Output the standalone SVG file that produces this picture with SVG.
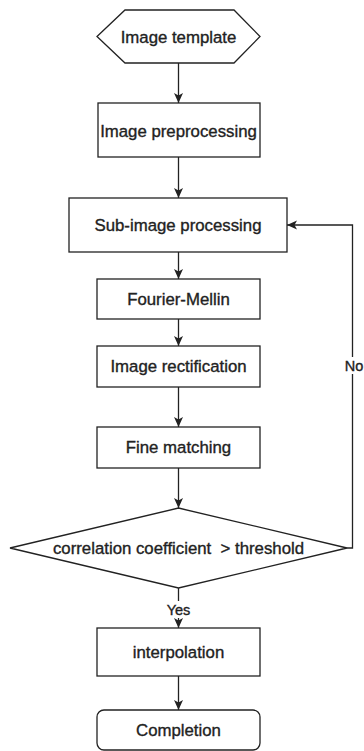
<svg xmlns="http://www.w3.org/2000/svg" width="364" height="751" viewBox="0 0 364 751">
<style>
.shape{fill:#fff;stroke:#222;stroke-width:1.3}
.line{fill:none;stroke:#222;stroke-width:1.3}
text{font-family:"Liberation Sans",Arial,sans-serif;font-size:16.8px;fill:#222;stroke:#222;stroke-width:0.35;text-anchor:middle;white-space:pre}
.lbl{font-size:14.5px}
</style>
<defs>
<marker id="arr" viewBox="0 0 10 10" refX="10" refY="5" markerWidth="10" markerHeight="10" markerUnits="userSpaceOnUse" orient="auto">
<path d="M0,0.5 L10,5 L0,9.5 L2.5,5 Z" fill="#222"/>
</marker>
</defs>
<rect width="364" height="751" fill="#fff"/>
<g id="connectors">
<path class="line" d="M178.5,63 V103" marker-end="url(#arr)"/>
<path class="line" d="M178.5,157 V198" marker-end="url(#arr)"/>
<path class="line" d="M178.5,252 V279" marker-end="url(#arr)"/>
<path class="line" d="M178.5,319 V346" marker-end="url(#arr)"/>
<path class="line" d="M178.5,387 V427" marker-end="url(#arr)"/>
<path class="line" d="M178.5,468 V508" marker-end="url(#arr)"/>
<path class="line" d="M178.5,588 V628" marker-end="url(#arr)"/>
<path class="line" d="M178.5,676 V710" marker-end="url(#arr)"/>
<path class="line" d="M347,548 H352.5 V225 H287" marker-end="url(#arr)"/>
<rect x="343" y="357" width="22" height="17" fill="#fff"/>
<text class="lbl" x="354" y="371">No</text>
<rect x="163" y="601" width="31" height="17" fill="#fff"/>
<text class="lbl" x="178.5" y="615">Yes</text>
</g>
<g id="n1">
<polygon class="shape" points="97,36.5 125,10 234,10 260,36.5 234,63 125,63"/>
<text x="178.5" y="42.5">Image template</text>
</g>
<g id="n2">
<rect class="shape" x="98" y="103" width="162" height="54"/>
<text x="178.5" y="137">Image preprocessing</text>
</g>
<g id="n3">
<rect class="shape" x="69" y="198" width="218" height="54"/>
<text x="178" y="231">Sub-image processing</text>
</g>
<g id="n4">
<rect class="shape" x="97" y="279" width="163" height="40"/>
<text x="178.5" y="305">Fourier-Mellin</text>
</g>
<g id="n5">
<rect class="shape" x="97" y="346" width="163" height="41"/>
<text x="178.5" y="372">Image rectification</text>
</g>
<g id="n6">
<rect class="shape" x="97" y="427" width="163" height="41"/>
<text x="178.5" y="453">Fine matching</text>
</g>
<g id="n7">
<polygon class="shape" points="178.5,508 347,548 178.5,588 10,548"/>
<text x="178.5" y="554" xml:space="preserve">correlation coefficient  &gt; threshold</text>
</g>
<g id="n8">
<rect class="shape" x="97" y="628" width="163" height="48"/>
<text x="178.5" y="658">interpolation</text>
</g>
<g id="n9">
<rect class="shape" x="97" y="710" width="163" height="40" rx="7"/>
<text x="178.5" y="736">Completion</text>
</g>
</svg>
